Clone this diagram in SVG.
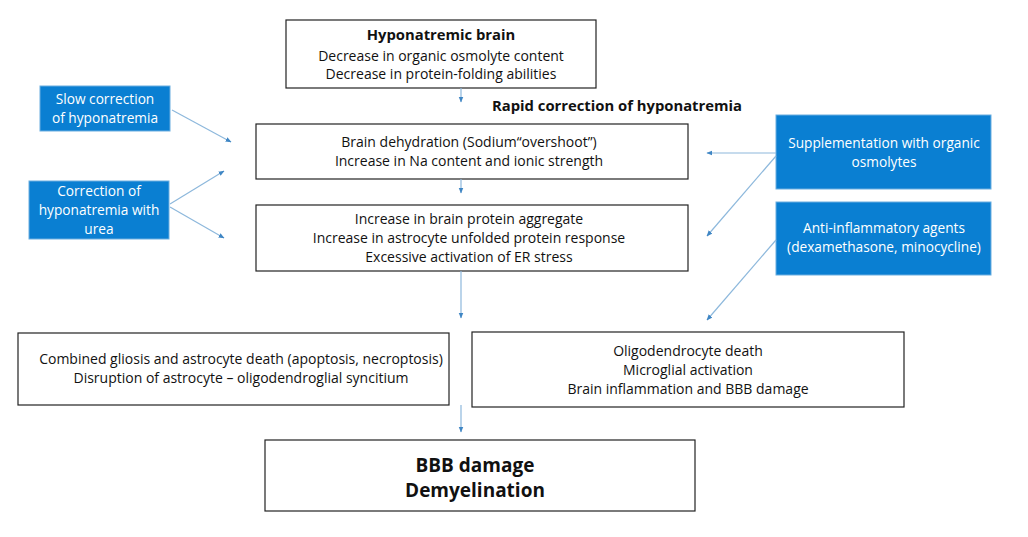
<svg xmlns="http://www.w3.org/2000/svg" width="1028" height="537" viewBox="0 0 1028 537">
<style>
text{font-family:"Open Sans","Noto Sans","Liberation Sans",sans-serif;font-size:14px;fill:#111;text-anchor:middle}
.w{fill:#fff;stroke:#222;stroke-width:1.2}
.b{fill:#0a7fd2;stroke:#6aaee0;stroke-width:1}
.bt{fill:#fff;font-size:13.7px}
.h{font-weight:bold;font-size:14.8px}
.big{font-weight:bold;font-size:19px}
.c line{stroke:#8db8dc;stroke-width:1.2;marker-end:url(#a)}
</style>
<defs><marker id="a" viewBox="0 0 10 10" refX="9" refY="5" markerWidth="5" markerHeight="5" orient="auto"><path d="M0,1L10,5L0,9z" fill="#3f86c4"/></marker></defs>
<rect width="1028" height="537" fill="#fff"/>
<g id="n1"><rect class="w" x="286" y="20" width="310" height="68"/><text class="h" x="441" y="40">Hyponatremic brain</text><text x="441" y="61">Decrease in organic osmolyte content</text><text x="441" y="79">Decrease in protein-folding abilities</text></g>
<g id="lbl"><text class="h" x="617" y="111">Rapid correction of hyponatremia</text></g>
<g id="n2"><rect class="w" x="256" y="124" width="432" height="55"/><text x="469" y="147">Brain dehydration (Sodium“overshoot”)</text><text x="469" y="166">Increase in Na content and ionic strength</text></g>
<g id="n3"><rect class="w" x="256" y="205" width="432" height="66"/><text x="469" y="224">Increase in brain protein aggregate</text><text x="469" y="243">Increase in astrocyte unfolded protein response</text><text x="469" y="262">Excessive activation of ER stress</text></g>
<g id="n4"><rect class="w" x="18" y="333" width="431" height="72"/><text x="241" y="364">Combined gliosis and astrocyte death (apoptosis, necroptosis)</text><text x="241" y="383">Disruption of astrocyte – oligodendroglial syncitium</text></g>
<g id="n5"><rect class="w" x="472" y="332" width="432" height="75"/><text x="688" y="356">Oligodendrocyte death</text><text x="688" y="375">Microglial activation</text><text x="688" y="394">Brain inflammation and BBB damage</text></g>
<g id="n6"><rect class="w" x="265" y="440" width="430" height="71"/><text class="big" x="475" y="472">BBB damage</text><text class="big" x="475" y="497">Demyelination</text></g>
<g id="s1"><rect class="b" x="40" y="86" width="130" height="45"/><text class="bt" x="105" y="104">Slow correction</text><text class="bt" x="105" y="123">of hyponatremia</text></g>
<g id="s2"><rect class="b" x="29" y="181" width="140" height="58"/><text class="bt" x="99" y="196">Correction of</text><text class="bt" x="99" y="215">hyponatremia with</text><text class="bt" x="99" y="234">urea</text></g>
<g id="s3"><rect class="b" x="776" y="115" width="215" height="74"/><text class="bt" x="884" y="148">Supplementation with organic</text><text class="bt" x="884" y="167">osmolytes</text></g>
<g id="s4"><rect class="b" x="776" y="202" width="215" height="73"/><text class="bt" x="884" y="233">Anti-inflammatory agents</text><text class="bt" x="884" y="252">(dexamethasone, minocycline)</text></g>
<g class="c" id="connectors">
<line x1="461" y1="88" x2="461" y2="102"/>
<line x1="461" y1="179" x2="461" y2="193"/>
<line x1="461" y1="271" x2="461" y2="318"/>
<line x1="461" y1="405" x2="461" y2="432"/>
<line x1="172" y1="110" x2="231" y2="142"/>
<line x1="170" y1="204" x2="224" y2="171"/>
<line x1="170" y1="207" x2="224" y2="238"/>
<line x1="776" y1="153" x2="707" y2="153"/>
<line x1="776" y1="156" x2="707" y2="236"/>
<line x1="776" y1="240" x2="707" y2="320"/>
</g>
</svg>
